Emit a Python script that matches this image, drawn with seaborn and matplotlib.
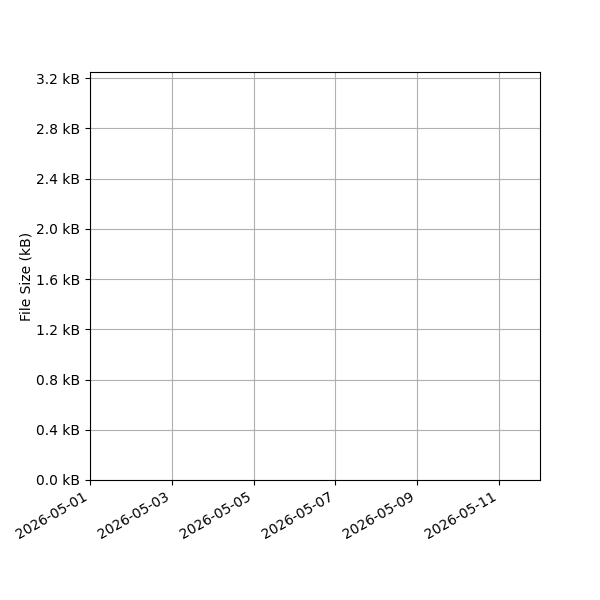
import pandas as pd
import matplotlib
matplotlib.use('Agg')
import matplotlib.pyplot as plt
import matplotlib.dates as mdates
from matplotlib.ticker import FuncFormatter, MultipleLocator
import seaborn as sns

# Données : aucune mesure enregistrée sur la période
dates = []
sizes_bytes = []

x_start = pd.Timestamp('2026-05-01')
x_end = pd.Timestamp('2026-05-12')
y_max_bytes = 3250

df = pd.DataFrame({'date': pd.to_datetime(dates), 'size': pd.Series(sizes_bytes, dtype=float)})

fig, ax = plt.subplots(figsize=(6, 6), dpi=100)
if len(df):
    sns.lineplot(data=df, x='date', y='size', ax=ax)
else:
    ax.plot(df['date'], df['size'])

ax.set_xlim(x_start, x_end)
ax.set_ylim(0, y_max_bytes)
ax.xaxis.set_major_locator(mdates.DayLocator(bymonthday=range(1, 32, 2)))
ax.xaxis.set_major_formatter(mdates.DateFormatter('%Y-%m-%d'))
ax.yaxis.set_major_locator(MultipleLocator(400))
ax.yaxis.set_major_formatter(FuncFormatter(lambda v, p: f'{v / 1000:.1f} kB'))
ax.set_ylabel('File Size (kB)', labelpad=2)
ax.set_xlabel('')
ax.grid(True)

fig.autofmt_xdate()
fig.subplots_adjust(left=0.15, right=0.9, top=0.88, bottom=0.2)
fig.savefig('out.png', dpi=100)
